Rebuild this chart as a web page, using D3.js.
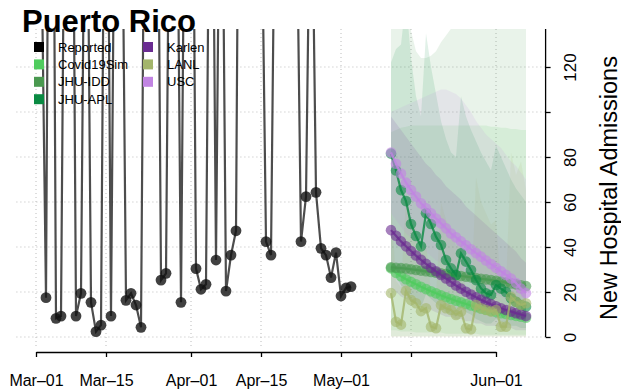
<!DOCTYPE html>
<html>
<head>
<meta charset="utf-8">
<script src="https://cdn.jsdelivr.net/npm/d3@7"></script>
<style>
  body { margin: 0; background: #fff; }
  svg { display: block; font-family: "Liberation Sans", Arial, Helvetica, sans-serif; }
  .grid line { stroke: #bcbcbc; stroke-width: 1; stroke-dasharray: 1 3; }
  .axis path, .axis line { stroke: #000; stroke-width: 1.3; }
</style>
</head>
<body>
<svg id="chart" width="621" height="390"></svg>
<script>
// ---- data ----
const title = 'Puerto Rico';
const yLabel = 'New Hospital Admissions';

const xTickDates = ['2021-03-01', '2021-03-15', '2021-04-01', '2021-04-15', '2021-05-01', '2021-05-15', '2021-06-01'];
const xTickLabels = ['Mar\u201301', 'Mar\u201315', 'Apr\u201301', 'Apr\u201315', 'May\u201301', '', 'Jun\u201301'];
const yTicks = [0, 20, 40, 60, 80, 100, 120];
const yTickLabels = ['0', '20', '40', '60', '80', '', '120'];

// daily reported admissions, starting Mar-02 (many days are far above the visible range)
const reportedStart = '2021-03-02';
const reported = [190, 17.5, 420, 8.3, 9.3, 300, 350, 9.3, 19.4, 280,
    15.4, 2.4, 5.3, 320, 9.3, 290, 260, 16.3, 19.4, 14.2,
    4.3, 310, 280, 330, 25.3, 28.3, 300, 270, 15.4, 290,
    340, 30.4, 21.2, 23.4, 310, 34.2, 280, 20.4, 36.4, 47.2,
    390, 300, 280, 320, 217, 42.4, 36.4, 254, 300, 280,
    310, 217, 42.4, 62.4, 235, 64.3, 39.4, 36.4, 26.4, 37.5,
    18.2, 21.8, 22.4];

// daily forecasts, starting May-11
const forecastStart = '2021-05-11';
const models = ['Covid19Sim', 'JHU-IDD', 'JHU-APL', 'Karlen', 'LANL', 'USC'];

const covid19simMedian = [30.5, 28.5, 27, 25.7, 24.5, 23.4, 22.3, 21.3, 20.3, 19.4, 18.5, 17.7, 16.9, 16.1, 15.4, 14.7, 14, 13.3, 12.7, 12.1, 11.6, 11.1, 10.6, 10.2, 9.8, 9.4, 9, 8.6];
const covid19simLower = [3, 3, 2.5, 2.5, 2.5, 2, 2, 2, 2, 2, 2, 1.5, 1.5, 1.5, 1.5, 1.5, 1.5, 1.5, 1, 1, 1, 1, 1, 1, 1, 1, 1, 1];
const covid19simUpper = [91, 92, 93, 93.5, 94, 94, 94, 94, 94, 94, 94, 94, 94, 94, 94, 94, 94, 94, 94, 94, 93.5, 93.5, 93, 93, 92.5, 92.5, 92, 92];

const jhuIddMedian = [31, 30.8, 30.6, 30.4, 30.1, 29.8, 29.5, 29.2, 28.9, 28.6, 28.3, 28, 27.7, 27.4, 27.1, 26.8, 26.5, 26.2, 25.9, 25.6, 25.3, 25, 24.6, 24.2, 23.8, 23.4, 23, 22.6];
const jhuIddLower = [0.5, 0.5, 0.5, 0.5, 0.5, 0.5, 0.5, 0.5, 0.5, 0.5, 0.5, 0.5, 0.5, 0.5, 0.5, 0.5, 0.5, 0.5, 0.5, 0.5, 0.5, 0.5, 0.5, 0.5, 0.5, 0.5, 0.5, 0.5];
const jhuIddUpper = [200, 200, 200, 160, 136, 127, 124, 124, 125, 127, 131, 134, 137, 160, 200, 200, 200, 200, 200, 200, 200, 200, 200, 200, 200, 200, 200, 200];

const jhuAplMedian = [81.5, 74, 65.3, 60.4, 50.2, 44.9, 40.3, 55, 50.2, 44.6, 40.9, 34.2, 30.5, 27.6, 37.2, 33.5, 29.8, 25.3, 21.6, 19.4, 18.7, 23.1, 21.5, 20, 17.2, 15.7, 14.2, 13.5];
const jhuAplLower = [30, 27, 23, 21, 17, 15, 13, 19, 17, 15, 13, 11, 10, 9, 13, 11, 10, 8, 7, 6, 6, 8, 7, 6, 5, 5, 4, 4];
const jhuAplUpper = [122, 128, 130, 150, 124, 107, 98, 135, 120, 108, 96, 88, 82, 80, 107, 98, 92, 87, 82, 78, 74, 85, 80, 75, 70, 66, 63, 60];

const karlenMedian = [47.5, 45, 42.5, 40.3, 38.2, 36.2, 34.3, 32.5, 30.8, 29.2, 27.6, 26, 24.5, 22.9, 21.5, 20.1, 18.9, 17.7, 16.6, 15.6, 14.6, 13.7, 12.8, 12, 11.3, 10.6, 10, 9.3];
const karlenLower = [22, 20, 18, 17, 16, 15, 14, 13, 12, 11, 10, 9, 9, 8, 8, 7, 7, 6, 6, 5, 5, 5, 4, 4, 4, 3, 3, 3];
const karlenUpper = [98, 95, 92, 89, 86, 83, 80, 77, 75, 72, 70, 67, 65, 63, 61, 58, 56, 54, 52, 50, 48, 46, 44, 42, 40, 38, 35, 33];

const lanlMedian = [19.5, 6.8, 5.5, 20.5, 16.4, 15, 11.5, 12.8, 4.6, 3.9, 14.2, 12.8, 12, 9.8, 11.3, 3.9, 3.4, 14.2, 12.8, 12, 11.3, 12, 4.6, 4.6, 17.9, 15.7, 14.2, 15];
const lanlLower = [0, 0, 0, 0, 0, 0, 0, 0, 0, 0, 0, 0, 0, 0, 0, 0, 0, 0, 0, 0, 0, 0, 0, 0, 0, 0, 0, 0];
const lanlUpper = [60, 25, 22, 62, 52, 48, 40, 42, 20, 18, 60, 52, 48, 40, 44, 18, 16, 71, 60, 55, 50, 52, 22, 22, 82, 72, 78, 65];

const uscMedian = [82, 77, 72.7, 68.6, 65.3, 62.4, 59.4, 57.2, 55, 52.7, 50.5, 48.3, 46, 44.3, 42.5, 40.8, 39, 37.3, 35.7, 34, 32.4, 30.8, 29.2, 27.6, 26, 24, 21.5, 19.5];
const uscLower = [55, 52, 49, 46, 44, 42, 40, 38, 36, 34, 33, 31, 30, 28, 27, 26, 24, 23, 22, 21, 20, 19, 18, 17, 16, 15, 14, 13];
const uscUpper = [100, 101, 102, 103, 104, 105, 106, 107, 108, 109, 110, 110, 109, 108, 106, 103, 100, 96, 93, 90, 88, 86, 84, 81, 78, 76, 73, 70];

// ---- setup ----
const colors = {
    'Reported': '#000000',
    'Covid19Sim': '#4fcc5e',
    'JHU-IDD': '#4a9950',
    'JHU-APL': '#0a8a42',
    'Karlen': '#6a2c91',
    'LANL': '#a3b56b',
    'USC': '#c184e2'
};

const forecasts = [
    {name: 'Covid19Sim', median: covid19simMedian, lower: covid19simLower, upper: covid19simUpper},
    {name: 'JHU-IDD', median: jhuIddMedian, lower: jhuIddLower, upper: jhuIddUpper},
    {name: 'JHU-APL', median: jhuAplMedian, lower: jhuAplLower, upper: jhuAplUpper},
    {name: 'Karlen', median: karlenMedian, lower: karlenLower, upper: karlenUpper},
    {name: 'LANL', median: lanlMedian, lower: lanlLower, upper: lanlUpper},
    {name: 'USC', median: uscMedian, lower: uscLower, upper: uscUpper}
];

const parse = d3.utcParse('%Y-%m-%d');
const svg = d3.select('#chart');

const xScale = d3.scaleUtc()
    .domain([parse('2021-03-01'), parse('2021-06-01')])
    .range([36, 496]);
const yScale = d3.scaleLinear()
    .domain([0, 120])
    .range([337, 67]);

// plot region (R style, 4% padding)
const plot = {left: 16.4, right: 545.6, top: 29, bottom: 349};

svg.append('defs').append('clipPath').attr('id', 'plotClip')
    .append('rect')
    .attr('x', plot.left).attr('y', plot.top)
    .attr('width', plot.right - plot.left).attr('height', plot.bottom - plot.top);

function seriesFrom(start, values) {
    const d0 = parse(start);
    return values.map((v, i) => ({date: d3.utcDay.offset(d0, i), value: v}));
}

// grid
function renderGrid() {
    const g = svg.append('g').attr('class', 'grid');
    g.selectAll('.gy').data(yTicks).enter().append('line')
        .attr('x1', plot.left).attr('x2', plot.right)
        .attr('y1', d => yScale(d)).attr('y2', d => yScale(d));
    g.selectAll('.gx').data(xTickDates).enter().append('line')
        .attr('x1', d => xScale(parse(d))).attr('x2', d => xScale(parse(d)))
        .attr('y1', plot.top).attr('y2', plot.bottom);
}

function renderBands() {
    const g = svg.append('g').attr('clip-path', 'url(#plotClip)');
    const area = d3.area()
        .x(d => xScale(d.date))
        .y0(d => yScale(d.lo))
        .y1(d => yScale(d.hi));
    forecasts.forEach(m => {
        const d0 = parse(forecastStart);
        const rows = m.median.map((v, i) => ({date: d3.utcDay.offset(d0, i), lo: m.lower[i], hi: m.upper[i]}));
        g.append('path')
            .attr('d', area(rows))
            .attr('fill', colors[m.name])
            .attr('fill-opacity', 0.12);
    });
}

function renderSeries(data, color, r, lineOpacity, pointOpacity) {
    const g = svg.append('g').attr('clip-path', 'url(#plotClip)');
    const line = d3.line().x(d => xScale(d.date)).y(d => yScale(d.value));
    g.append('path')
        .attr('d', line(data))
        .attr('fill', 'none')
        .attr('stroke', color)
        .attr('stroke-width', 2.2)
        .attr('stroke-opacity', lineOpacity);
    g.selectAll('circle').data(data).enter().append('circle')
        .attr('cx', d => xScale(d.date))
        .attr('cy', d => yScale(d.value))
        .attr('r', r)
        .attr('fill', color)
        .attr('fill-opacity', pointOpacity);
}

function renderAxes() {
    // x axis
    const xAxis = d3.axisBottom(xScale)
        .tickValues(xTickDates.map(parse))
        .tickSize(5)
        .tickSizeOuter(0)
        .tickFormat((d, i) => xTickLabels[i]);
    const gx = svg.append('g').attr('class', 'axis')
        .attr('transform', 'translate(0,352)')
        .call(xAxis);
    gx.selectAll('text')
        .attr('font-size', 16)
        .attr('font-family', '"Liberation Sans", Arial, sans-serif')
        .attr('fill', '#000')
        .attr('dy', 26);

    // y axis on the right
    const yAxis = d3.axisRight(yScale)
        .tickValues(yTicks)
        .tickSize(5)
        .tickSizeOuter(0)
        .tickFormat((d, i) => yTickLabels[i]);
    const gy = svg.append('g').attr('class', 'axis')
        .attr('transform', `translate(${plot.right},0)`)
        .call(yAxis);
    gy.select('.domain').attr('d', `M0,${yScale(0)}V${plot.top}`);
    gy.selectAll('text')
        .attr('font-size', 17)
        .attr('font-family', '"Liberation Sans", Arial, sans-serif')
        .attr('fill', '#000')
        .attr('x', 0).attr('dy', 0)
        .attr('text-anchor', 'middle')
        .attr('transform', 'translate(30,0) rotate(-90)');

    svg.append('text')
        .attr('transform', 'translate(617,188) rotate(-90)')
        .attr('text-anchor', 'middle')
        .attr('font-size', 23.5)
        .text(yLabel);
}

function renderLegend() {
    const entries = ['Reported'].concat(models);
    const g = svg.append('g');
    entries.forEach((name, i) => {
        const col = i < 4 ? 0 : 1;
        const row = i < 4 ? i : i - 4;
        const x = col === 0 ? 34 : 143;
        const y = 47 + row * 17.4;
        g.append('rect')
            .attr('x', x).attr('y', y - 5)
            .attr('width', 10).attr('height', 10)
            .attr('fill', colors[name]);
        g.append('text')
            .attr('x', x + 24).attr('y', y + 4.5)
            .attr('font-size', 13)
            .text(name);
    });
}

renderGrid();
renderBands();
forecasts.forEach(m => renderSeries(seriesFrom(forecastStart, m.median), colors[m.name], 5.3, 0.8, 0.6));
renderSeries(seriesFrom(reportedStart, reported), '#111', 5.4, 0.75, 0.8);
renderAxes();
renderLegend();

svg.append('text')
    .attr('x', 22).attr('y', 32)
    .attr('font-size', 31)
    .attr('font-weight', 'bold')
    .text(title);
</script>
</body>
</html>
